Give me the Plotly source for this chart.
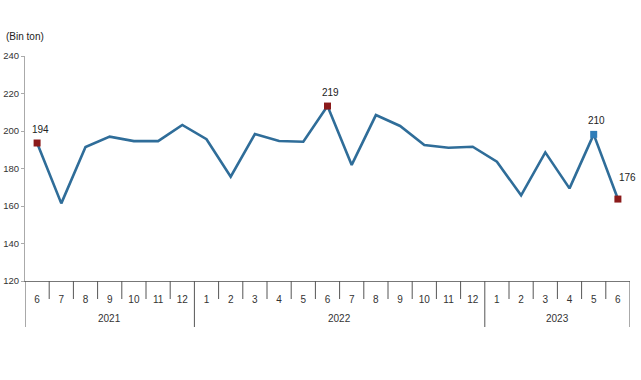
import plotly.graph_objects as go

years = ["2021"] * 7 + ["2022"] * 12 + ["2023"] * 6
months = ["6", "7", "8", "9", "10", "11", "12",
          "1", "2", "3", "4", "5", "6", "7", "8", "9", "10", "11", "12",
          "1", "2", "3", "4", "5", "6"]
values = [193.6, 161.4, 191.5, 197.0, 194.6, 194.6, 203.2,
          195.6, 175.6, 198.4, 194.7, 194.3, 213.3, 181.9, 208.5, 202.7, 192.5, 191.1, 191.6,
          183.6, 165.7, 188.6, 169.4, 198.2, 163.7]
label_idx = [0, 12, 23, 24]
label_text = ["194", "219", "210", "176"]
marker_colors = ["#8b1a1a", "#8b1a1a", "#2f7db8", "#8b1a1a"]
y_ticks = [120, 140, 160, 180, 200, 220, 240]

FONT = "Liberation Sans, Arial"
LINE = "#2f6d99"
idx = list(range(len(values)))

fig = go.Figure()
fig.add_trace(go.Scatter(
    x=idx, y=values, mode="lines",
    line=dict(color=LINE, width=2.6), hoverinfo="skip", showlegend=False))
fig.add_trace(go.Scatter(
    x=label_idx, y=[values[i] for i in label_idx], mode="markers",
    marker=dict(symbol="square", size=7, color=marker_colors, line=dict(width=0)),
    showlegend=False, hoverinfo="skip"))

for k, i in enumerate(label_idx):
    last = i == len(values) - 1
    fig.add_annotation(
        x=i, y=values[i], xref="x", yref="y", text=label_text[k],
        showarrow=False, yshift=22 if last else 14, xshift=10 if last else 3,
        font=dict(family=FONT, size=10, color="#222"))

fig.add_annotation(
    x=0, y=1, xref="paper", yref="paper", xanchor="left", yanchor="bottom",
    text="(Bin ton)", showarrow=False, xshift=-21, yshift=12,
    font=dict(family=FONT, size=10, color="#222"))

# cell separators and year dividers
shapes = []
for i in range(len(values) + 1):
    boundary = i == 0 or i == len(values) or years[i] != years[i - 1]
    shapes.append(dict(
        type="line", xref="x", yref="paper", x0=i - 0.5, x1=i - 0.5,
        ysizemode="pixel", yanchor=0, y0=0, y1=-46 if boundary else -18,
        line=dict(color="#555", width=1)))
fig.update_layout(shapes=shapes)

# year labels
groups = []
for i, yv in enumerate(years):
    if not groups or groups[-1][0] != yv:
        groups.append([yv, i, i])
    else:
        groups[-1][2] = i
for yv, a, b in groups:
    fig.add_annotation(
        x=(a + b) / 2, y=0, xref="x", yref="paper", yanchor="top",
        text=yv, showarrow=False, yshift=-30,
        font=dict(family=FONT, size=10, color="#333"))

fig.update_layout(
    width=641, height=380,
    margin=dict(l=25, r=11, t=56, b=99),
    paper_bgcolor="white", plot_bgcolor="white",
    font=dict(family=FONT, size=10, color="#333"),
    xaxis=dict(
        range=[-0.5, len(values) - 0.5], tickvals=idx, ticktext=months,
        showgrid=False, zeroline=False, automargin=False,
        showline=True, linecolor="#777", linewidth=1,
        ticks="outside", ticklen=9, tickcolor="rgba(0,0,0,0)",
        tickfont=dict(size=10, color="#333")),
    yaxis=dict(
        range=[120, 240], tickvals=y_ticks, showgrid=False, zeroline=False,
        automargin=False,
        showline=True, linecolor="#aaa", linewidth=1,
        ticks="outside", ticklen=3, tickcolor="#aaa",
        tickfont=dict(size=9.5, color="#333")),
)

fig.write_html("out.html", config={"displayModeBar": False},
               post_script="document.body.style.margin='0';")
